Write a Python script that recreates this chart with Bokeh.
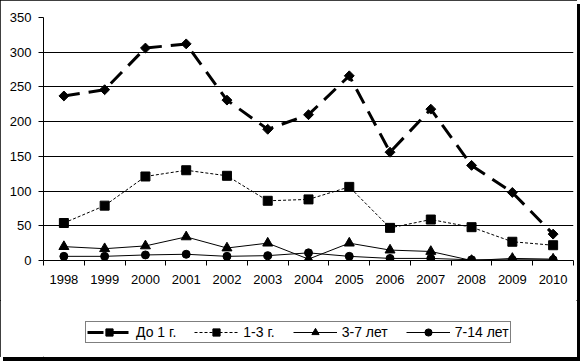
import math
from bokeh.plotting import figure
from bokeh.layouts import column
from bokeh.models import Range1d, FixedTicker, Legend, LegendItem, ColumnDataSource
from bokeh.embed import file_html
from bokeh.resources import INLINE

years = ["1998", "1999", "2000", "2001", "2002", "2003", "2004",
         "2005", "2006", "2007", "2008", "2009", "2010"]
do_1 = [237, 246, 306, 312, 231, 189, 210, 266, 156, 218, 137, 98, 38]
g_1_3 = [54, 79, 121, 130, 122, 86, 88, 106, 47, 59, 48, 27, 22]
l_3_7 = [20, 17, 21, 34, 18, 25, 2, 25, 15, 13, 0, 3, 2]
l_7_14 = [6, 6, 8, 9, 6, 7, 11, 6, 3, 3, 1, 1, 1]
series_names = ["До 1 г.", "1-3 г.", "3-7 лет", "7-14 лет"]
y_ticks = [0, 50, 100, 150, 200, 250, 300, 350]

FONT = "Liberation Sans"

# series styles: (column, line_width, line_dash, marker, size, angle)
styles = [
    ("do_1", 3, "16 9", "square", 7, math.pi / 4),
    ("g_1_3", 1, "3 2", "square", 9, 0.0),
    ("l_3_7", 1, "solid", "triangle", 10, 0.0),
    ("l_7_14", 1, "solid", "circle", 8, 0.0),
]

xs = [i + 0.5 for i in range(len(years))]
src = ColumnDataSource(dict(x=xs, do_1=do_1, g_1_3=g_1_3, l_3_7=l_3_7, l_7_14=l_7_14))

p = figure(frame_width=530, frame_height=243, output_backend="svg", toolbar_location=None,
           x_range=Range1d(0, len(years)), y_range=Range1d(0, 350),
           min_border_left=43, min_border_right=4, min_border_top=17, min_border_bottom=40)
p.outline_line_color = None
p.background_fill_color = "white"
p.border_fill_color = "white"

# x axis: labels at category centres, ticks at category boundaries
xa = p.xaxis[0]
xa.ticker = FixedTicker(ticks=xs, minor_ticks=list(range(len(years) + 1)))
xa.major_label_overrides = {x: y for x, y in zip(xs, years)}
xa.major_tick_line_color = None
xa.major_tick_out = 5
xa.major_tick_in = 0
xa.minor_tick_out = 5
xa.minor_tick_in = 0
xa.minor_tick_line_color = "black"
xa.axis_line_color = "black"
xa.major_label_text_font = FONT
xa.major_label_text_font_size = "13px"
xa.major_label_text_color = "black"
xa.major_label_standoff = 9

ya = p.yaxis[0]
ya.ticker = FixedTicker(ticks=y_ticks)
ya.major_tick_out = 5
ya.major_tick_in = 0
ya.minor_tick_line_color = None
ya.axis_line_color = "black"
ya.major_tick_line_color = "black"
ya.major_label_text_font = FONT
ya.major_label_text_font_size = "13px"
ya.major_label_text_color = "black"
ya.major_label_standoff = 7

p.xgrid.grid_line_color = None
p.ygrid.grid_line_color = "black"
p.ygrid.grid_line_width = 1
p.ygrid.ticker = FixedTicker(ticks=y_ticks)

for col, lw, dash, mk, sz, ang in styles:
    p.line("x", col, source=src, line_color="black", line_width=lw, line_dash=dash)
    p.scatter("x", col, source=src, marker=mk, size=sz, angle=ang,
              fill_color="black", line_color="black")

# legend strip below the plot (a second frame so that the legend is not clipped);
# its renderers share the data but its ranges keep them out of view
p2 = figure(frame_width=577, frame_height=57, output_backend="svg", toolbar_location=None,
            x_axis_type=None, y_axis_type=None,
            x_range=Range1d(0, len(years)), y_range=Range1d(1000, 1001),
            min_border=0, min_border_left=0, min_border_right=0,
            min_border_top=0, min_border_bottom=0)
p2.outline_line_color = None
p2.grid.grid_line_color = None
p2.background_fill_color = "white"
p2.border_fill_color = "white"

items = []
for name, (col, lw, dash, mk, sz, ang) in zip(series_names, styles):
    rl = p2.line("x", col, source=src, line_color="black", line_width=lw, line_dash=dash)
    rm = p2.scatter("x", col, source=src, marker=mk, size=sz, angle=ang,
                    fill_color="black", line_color="black")
    items.append(LegendItem(label=name, renderers=[rl, rm]))

legend = Legend(items=items, orientation="horizontal", location=(85, 14))
legend.margin = 0
legend.padding = 1
legend.spacing = 18
legend.glyph_width = 44
legend.glyph_height = 18
legend.label_height = 12
legend.label_standoff = 5
legend.label_text_font = FONT
legend.label_text_font_size = "14px"
legend.label_text_color = "black"
legend.border_line_color = "black"
legend.border_line_width = 1
legend.background_fill_color = "white"
legend.background_fill_alpha = 1
p2.add_layout(legend, "center")

layout = column(p, p2, spacing=0,
                styles={"outline": "1px solid black", "outline-offset": "-1px",
                        "box-shadow": "3px 4px 0px 0px black", "background": "white"})

open("out.html", "w").write(file_html(layout, INLINE))
